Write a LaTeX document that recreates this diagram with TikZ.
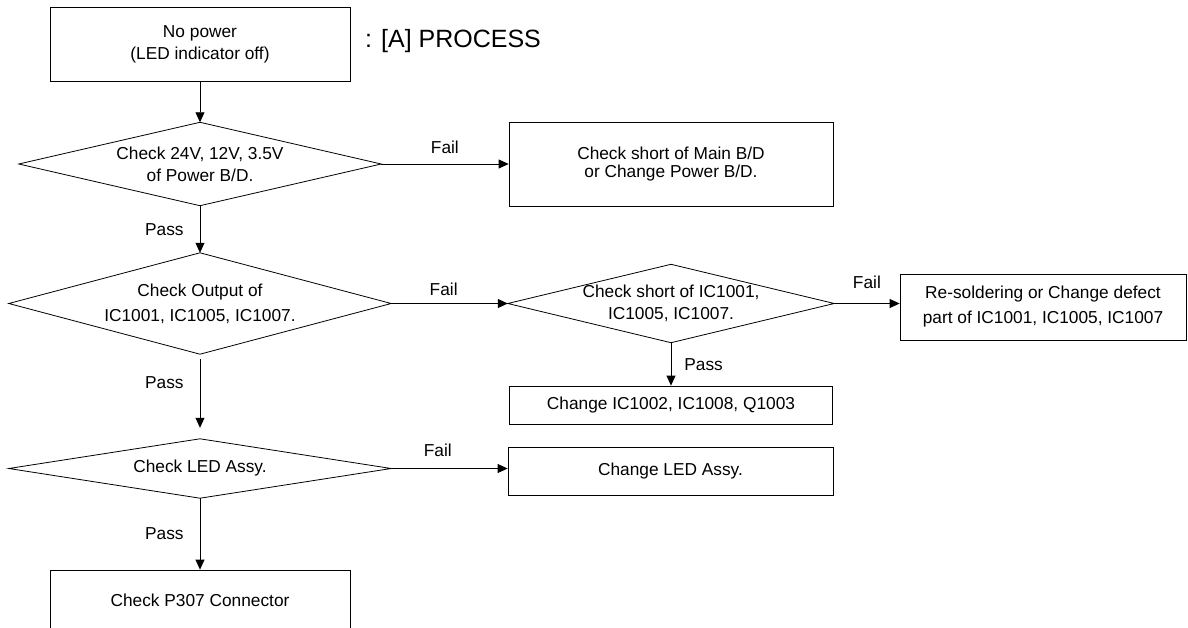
\documentclass[tikz,border=0pt]{standalone}
\usepackage{fontspec}
\setmainfont{Liberation Sans}
\usetikzlibrary{arrows.meta}

\begin{document}
\begin{tikzpicture}[x=1pt, y=-1pt]
	\tikzset{box/.style={rectangle, draw=black, line width=0.8pt, inner sep=0pt, align=center, font=\fontsize{17.3}{22}\selectfont}};
	\tikzset{dec/.style={rectangle, inner sep=0pt, align=center, font=\fontsize{17.3}{22}\selectfont}};
	\tikzset{lbl/.style={inner sep=0pt, font=\fontsize{17.3}{22}\selectfont}};
	\tikzset{arr/.style={-{Triangle[length=10pt, width=9pt]}, line width=0.8pt}};

	\clip (0, 0) rectangle (1188, 628);

	\node[box, minimum width=300pt, minimum height=74pt] (start) at (200, 44) {No power\\(LED indicator off)};
	\node[lbl, anchor=west, font=\fontsize{25}{30}\selectfont] (title) at (365, 41) {:\hspace{9pt}[A] PROCESS};

	\node[dec, minimum width=362pt, minimum height=83pt] (pwr) at (200, 164) {Check 24V, 12V, 3.5V\\of Power B/D.};
	\node[box, minimum width=324pt, minimum height=84pt] (pwrfix) at (671, 164) {Check short of Main B/D\\[-4pt] or Change Power B/D.};

	\node[dec, minimum width=382pt, minimum height=101pt] (out) at (200, 303.5) {Check Output of\\[3pt]IC1001, IC1005, IC1007.};
	\node[dec, minimum width=326pt, minimum height=78pt] (short) at (671, 303.5) {Check short of IC1001,\\IC1005, IC1007.};
	\node[box, minimum width=286pt, minimum height=66pt] (resolder) at (1043, 307) {Re-soldering or Change defect\\[3pt]part of IC1001, IC1005, IC1007};
	\node[box, minimum width=323pt, minimum height=38pt] (chg) at (671, 405) {Change IC1002, IC1008, Q1003};

	\node[dec, minimum width=382pt, minimum height=59pt] (led) at (200, 468.5) {Check LED Assy.};
	\node[box, minimum width=325pt, minimum height=48pt] (ledfix) at (670.5, 471) {Change LED Assy.};
	\node[box, minimum width=300pt, minimum height=60pt] (conn) at (200, 600) {Check P307 Connector};

	% decision shapes
	\foreach \d in {pwr, out, short, led}
		\draw[line width=0.8pt] (\d.west) -- (\d.north) -- (\d.east) -- (\d.south) -- cycle;

	\draw[arr] (start) to (pwr.north);
	\draw[arr] (pwr.east) to node[lbl, above=10pt] {Fail} (pwrfix.west);
	\draw[arr] (pwr.south) to node[lbl, left=16pt] {Pass} (out.north);

	\draw[arr] (out.east) to node[lbl, above=7pt, pos=0.45] {Fail} (short.west);
	\draw[arr] (short.east) to node[lbl, above=14pt] {Fail} (short.east -| resolder.west);
	\draw[arr] (short.south) to node[lbl, right=13pt] {Pass} (chg.north);
	\draw[arr, shorten <=5pt, shorten >=11pt] (out.south) to node[lbl, left=16pt, pos=0.34] {Pass} (led.north);

	\draw[arr] (led.east) to node[lbl, above=11pt, pos=0.4] {Fail} (led.east -| ledfix.west);
	\draw[arr] (led.south) to node[lbl, left=16pt] {Pass} (conn.north);

\end{tikzpicture}
\end{document}
